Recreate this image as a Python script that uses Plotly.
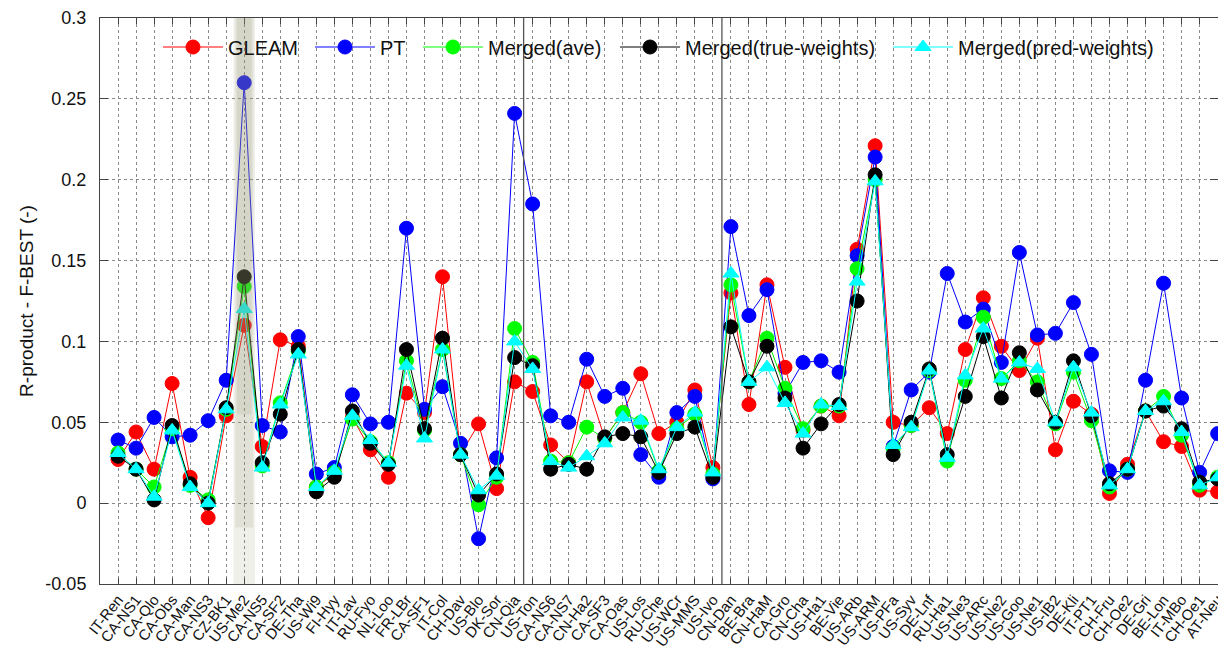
import plotly.graph_objects as go

sites = ["IT-Ren","CA-NS1","CA-Qlo","CA-Obs","CA-Man","CA-NS3","CZ-BK1","US-Me2","CA-NS5","CA-SF2",
         "DE-Tha","US-Wi9","FI-Hyy","IT-Lav","RU-Fyo","NL-Loo","FR-LBr","CA-SF1","IT-Col","CH-Dav",
         "US-Blo","DK-Sor","CN-Qia","US-Ton","CA-NS6","CA-NS7","CN-Ha2","CA-SF3","CA-Oas","US-Los",
         "RU-Che","US-WCr","US-MMS","US-Ivo","CN-Dan","BE-Bra","CN-HaM","CA-Gro","CN-Cha","US-Ha1",
         "BE-Vie","US-ARb","US-ARM","US-PFa","US-Syv","DE-Lnf","RU-Ha1","US-Ne3","US-ARc","US-Ne2",
         "US-Goo","US-Ne1","US-IB2","DE-Kli","IT-PT1","CH-Fru","CH-Oe2","DE-Gri","BE-Lon","IT-MBo",
         "CH-Oe1","AT-Neu"]

gleam = [0.027, 0.044, 0.021, 0.074, 0.016, -0.009, 0.054, 0.110, 0.035, 0.101,
         0.097, 0.010, 0.018, 0.053, 0.033, 0.016, 0.068, 0.056, 0.140, 0.030,
         0.049, 0.009, 0.075, 0.069, 0.036, 0.025, 0.075, 0.040, 0.056, 0.080,
         0.043, 0.050, 0.070, 0.022, 0.130, 0.061, 0.135, 0.084, 0.045, 0.060,
         0.054, 0.157, 0.221, 0.050, 0.048, 0.059, 0.043, 0.095, 0.127, 0.097,
         0.082, 0.102, 0.033, 0.063, 0.055, 0.006, 0.024, 0.057, 0.038, 0.035,
         0.008, 0.007]

pt = [0.039, 0.034, 0.053, 0.041, 0.042, 0.051, 0.076, 0.260, 0.048, 0.044,
      0.103, 0.018, 0.022, 0.067, 0.049, 0.050, 0.170, 0.058, 0.072, 0.037,
      -0.022, 0.028, 0.241, 0.185, 0.054, 0.050, 0.089, 0.066, 0.071, 0.030,
      0.016, 0.056, 0.066, 0.015, 0.171, 0.116, 0.132, 0.068, 0.087, 0.088,
      0.081, 0.153, 0.214, 0.035, 0.070, 0.081, 0.142, 0.112, 0.120, 0.087,
      0.155, 0.104, 0.105, 0.124, 0.092, 0.020, 0.019, 0.076, 0.136, 0.065,
      0.019, 0.043]

merged_ave = [0.031, 0.021, 0.010, 0.046, 0.011, 0.002, 0.058, 0.134, 0.023, 0.062,
              0.094, 0.010, 0.019, 0.052, 0.038, 0.025, 0.088, 0.045, 0.095, 0.030,
              -0.001, 0.016, 0.108, 0.087, 0.026, 0.025, 0.047, 0.040, 0.056, 0.050,
              0.020, 0.046, 0.055, 0.018, 0.135, 0.075, 0.102, 0.071, 0.046, 0.060,
              0.060, 0.145, 0.200, 0.034, 0.048, 0.082, 0.026, 0.076, 0.115, 0.077,
              0.088, 0.075, 0.049, 0.081, 0.051, 0.010, 0.021, 0.057, 0.066, 0.042,
              0.011, 0.016]

merged_true = [0.029, 0.021, 0.002, 0.048, 0.012, 0.000, 0.059, 0.140, 0.025, 0.055,
               0.095, 0.007, 0.016, 0.057, 0.037, 0.024, 0.095, 0.046, 0.102, 0.030,
               0.005, 0.018, 0.090, 0.085, 0.021, 0.024, 0.021, 0.041, 0.043, 0.041,
               0.019, 0.043, 0.047, 0.016, 0.109, 0.075, 0.097, 0.065, 0.034, 0.049,
               0.061, 0.125, 0.203, 0.030, 0.050, 0.083, 0.030, 0.066, 0.103, 0.065,
               0.093, 0.070, 0.050, 0.088, 0.054, 0.012, 0.021, 0.057, 0.060, 0.046,
               0.013, 0.015]

merged_pred = [0.031, 0.021, 0.004, 0.045, 0.010, 0.000, 0.058, 0.120, 0.022, 0.061,
               0.092, 0.010, 0.020, 0.054, 0.039, 0.025, 0.085, 0.040, 0.095, 0.030,
               0.008, 0.017, 0.100, 0.083, 0.026, 0.022, 0.029, 0.037, 0.053, 0.051,
               0.021, 0.047, 0.056, 0.019, 0.142, 0.075, 0.084, 0.062, 0.043, 0.061,
               0.060, 0.137, 0.199, 0.036, 0.047, 0.082, 0.028, 0.079, 0.108, 0.077,
               0.087, 0.083, 0.050, 0.084, 0.056, 0.011, 0.021, 0.057, 0.063, 0.044,
               0.011, 0.016]

y_ticks = [-0.05, 0, 0.05, 0.1, 0.15, 0.2, 0.25, 0.3]
y_ticktext = ["-0.05", "0", "0.05", "0.1", "0.15", "0.2", "0.25", "0.3"]

series = [
    ("GLEAM", gleam, "#ff0000", "circle"),
    ("PT", pt, "#0000ff", "circle"),
    ("Merged(ave)", merged_ave, "#00ff00", "circle"),
    ("Merged(true-weights)", merged_true, "#000000", "circle"),
    ("Merged(pred-weights)", merged_pred, "#00ffff", "triangle-up"),
]
legend_px = [163, 315, 423, 620, 893]

W, H = 1218, 650
L, R, T, B = 100, 0, 18, 66
plot_w = W - L - R
plot_h = H - T - B

x_idx = list(range(len(sites)))
fig = go.Figure()
FONT = "Liberation Sans, Arial, sans-serif"

for k, (name, vals, col, sym) in enumerate(series):
    lg = "legend" if k == 0 else f"legend{k+1}"
    fig.add_trace(go.Scatter(
        x=x_idx, y=vals, name=name, mode="lines+markers",
        line=dict(color=col, width=1),
        marker=dict(color=col, size=14, symbol=sym, line=dict(color=col, width=1)),
        legend=lg, showlegend=True,
    ))

legends = {}
for k, px in enumerate(legend_px):
    key = "legend" if k == 0 else f"legend{k+1}"
    legends[key] = dict(
        x=(px - 5 - L) / plot_w, y=(H - B - 47) / plot_h,
        xanchor="left", yanchor="middle",
        bgcolor="rgba(0,0,0,0)", borderwidth=0,
        itemwidth=60, font=dict(family=FONT, size=20, color="#111"),
        orientation="h",
    )

shapes = [
    dict(type="line", xref="x", yref="paper", x0=22.5, x1=22.5, y0=0, y1=1,
         line=dict(color="#555", width=1.3)),
    dict(type="line", xref="x", yref="paper", x0=33.5, x1=33.5, y0=0, y1=1,
         line=dict(color="#555", width=1.3)),
    dict(type="rect", xref="x", yref="paper", x0=6.4, x1=7.6, y0=0, y1=1,
         fillcolor="rgba(150,150,110,0.14)", line=dict(width=0), layer="above"),
    dict(type="rect", xref="x", yref="paper", x0=6.5, x1=7.5, y0=0.1, y1=1,
         fillcolor="rgba(150,150,110,0.16)", line=dict(width=0), layer="above"),
    dict(type="rect", xref="x", yref="paper", x0=6.6, x1=7.4, y0=0.3, y1=1,
         fillcolor="rgba(150,150,110,0.14)", line=dict(width=0), layer="above"),
]

fig.update_layout(
    width=W, height=H,
    margin=dict(l=L, r=R, t=T, b=B, autoexpand=False),
    paper_bgcolor="white", plot_bgcolor="white",
    font=dict(family=FONT, color="#111"),
    showlegend=True,
    shapes=shapes,
    **legends,
)

fig.update_xaxes(
    range=[-1, 61.02],
    tickmode="array", tickvals=x_idx, ticktext=sites, tickangle=-52,
    tickfont=dict(family=FONT, size=15, color="#111"),
    ticks="inside", ticklen=6, tickcolor="#444",
    showline=True, linecolor="#444", linewidth=1, mirror="ticks",
    showgrid=True, gridcolor="#8a8a8a", griddash="dot", gridwidth=1,
    zeroline=False, ticklabelstandoff=0, ticklabeloverflow="allow",
)
fig.update_yaxes(
    range=[-0.05, 0.3],
    tickmode="array", tickvals=y_ticks, ticktext=y_ticktext,
    tickfont=dict(family=FONT, size=18, color="#111"),
    ticks="inside", ticklen=8, tickcolor="#444",
    showline=True, linecolor="#444", linewidth=1, mirror="ticks",
    showgrid=True, gridcolor="#8a8a8a", griddash="dot", gridwidth=1,
    zeroline=False, ticklabelstandoff=9,
    title=dict(text="R-product - F-BEST (-)", font=dict(family=FONT, size=19, color="#111"), standoff=6),
)

fig.write_html("out.html")
